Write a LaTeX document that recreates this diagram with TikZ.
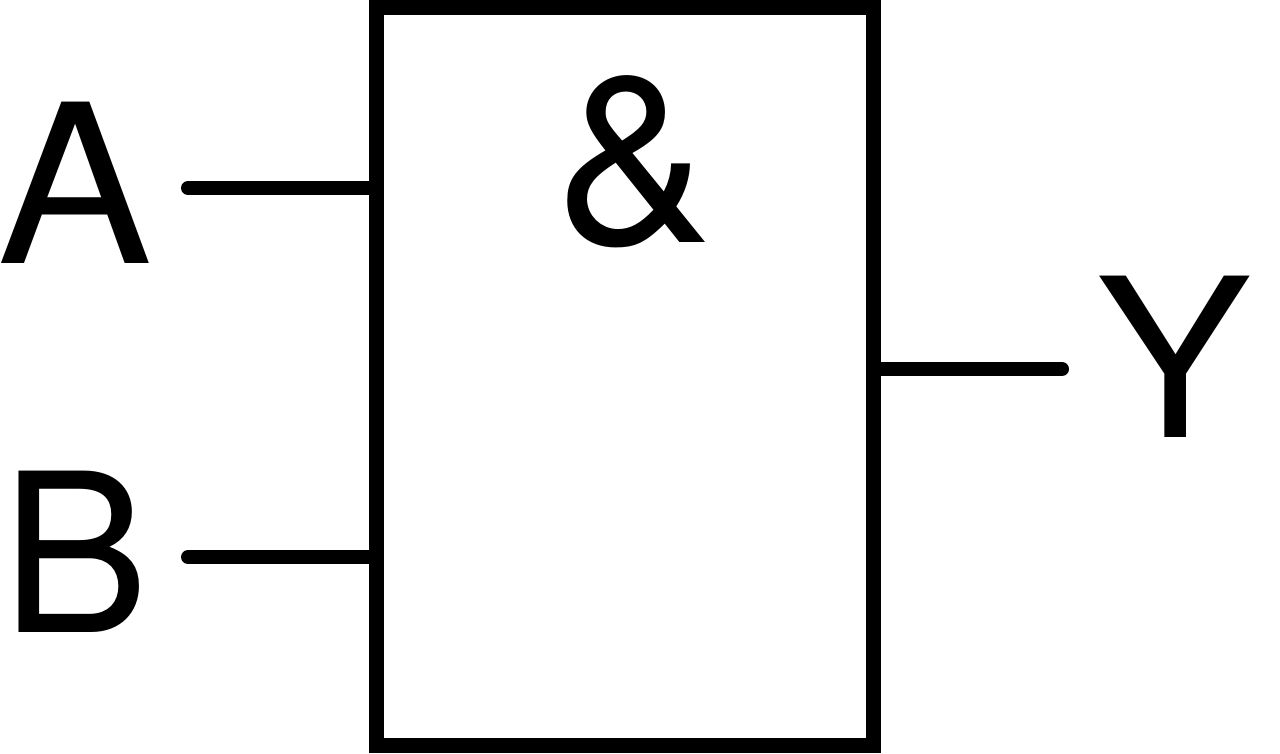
\documentclass[tikz,border=0pt]{standalone}
\usepackage{fontspec}
\setmainfont{TeX Gyre Heros}
\newfontfamily\widefont[FakeStretch=1.05]{TeX Gyre Heros}
\usetikzlibrary{positioning}
\tikzset{
lbl/.style={anchor=base, inner sep=0pt, font=\fontsize{63}{63}\selectfont},
widelbl/.style={lbl, font=\fontsize{63}{63}\widefont},
amplbl/.style={lbl, font=\fontsize{67}{67}\selectfont},
wire/.style={line width=0.14cm, line cap=round},
gate/.style={draw, line width=0.15cm, minimum width=4.97cm, minimum height=7.38cm, inner sep=0pt}
}
\begin{document}
\begin{tikzpicture}
\useasboundingbox (0,0) rectangle (12.8,-7.53);
\node[gate] (box) at (6.25,-3.76) {};
\node[amplbl] (amp) at (6.34,-2.42) {\&};
\node[widelbl] (A) at (0.75,-2.63) {A};
\node[lbl] (B) at (0.75,-6.32) {B};
\node[widelbl] (Y) at (11.74,-4.37) {Y};
\coordinate (ina) at (1.88,-1.88);
\coordinate (inb) at (1.88,-5.57);
\coordinate (outy) at (10.62,-3.69);
\draw[wire] (ina)--(ina-|box.west);
\draw[wire] (inb)--(inb-|box.west);
\draw[wire] (outy)--(outy-|box.east);
\end{tikzpicture}
\end{document}
